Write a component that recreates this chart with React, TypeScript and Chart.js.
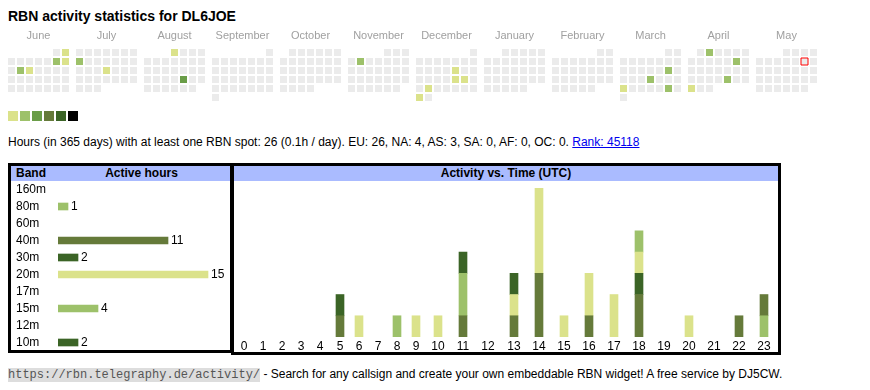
import React, { useEffect, useRef, useState } from 'react';
import { Chart, registerables } from 'chart.js';

Chart.register(...registerables);

const SANS = '"Liberation Sans", Arial, Helvetica, sans-serif';
const MONO = '"Liberation Mono", "DejaVu Sans Mono", monospace';

const MONTH_NAMES = ['June', 'July', 'August', 'September', 'October', 'November', 'December', 'January', 'February', 'March', 'April', 'May'];
const START_YEAR = 2024;
const START_MONTH = 5;
const ACTIVE_DATES = [
  '2024-06-02', '2024-06-08', '2024-06-09', '2024-06-11', '2024-06-12',
  '2024-07-08', '2024-07-18',
  '2024-08-01', '2024-08-23',
  '2024-11-05',
  '2024-12-13', '2024-12-20', '2024-12-21', '2024-12-24', '2024-12-30',
  '2025-03-15', '2025-03-20', '2025-03-24', '2025-03-29',
  '2025-04-02', '2025-04-12', '2025-04-25', '2025-04-28',
];
const ACTIVE_LEVELS = [1, 2, 1, 2, 1, 2, 1, 1, 3, 2, 1, 1, 1, 1, 1, 2, 2, 1, 2, 2, 2, 2, 1];
const TODAY = '2025-05-10';
const LEVEL_COLORS = ['#ebebeb', '#dbe28b', '#9dc16a', '#6a9d48', '#657a3a', '#3b6426', '#000000'];

const BANDS = ['160m', '80m', '60m', '40m', '30m', '20m', '17m', '15m', '12m', '10m'];
const BAND_HOURS = [0, 1, 0, 11, 2, 15, 0, 4, 0, 2];
const BAND_COLORS = ['#dbe28b', '#9dc16a', '#6a9d48', '#657a3a', '#3b6426', '#dbe28b', '#6a9d48', '#9dc16a', '#657a3a', '#3b6426'];

const HOUR_LABELS = ['0', '1', '2', '3', '4', '5', '6', '7', '8', '9', '10', '11', '12', '13', '14', '15', '16', '17', '18', '19', '20', '21', '22', '23'];
const H_160M = [0, 0, 0, 0, 0, 0, 0, 0, 0, 0, 0, 0, 0, 0, 0, 0, 0, 0, 0, 0, 0, 0, 0, 0];
const H_80M = [0, 0, 0, 0, 0, 0, 0, 0, 0, 0, 0, 0, 0, 0, 0, 0, 0, 0, 0, 0, 0, 0, 0, 1];
const H_60M = [0, 0, 0, 0, 0, 0, 0, 0, 0, 0, 0, 0, 0, 0, 0, 0, 0, 0, 0, 0, 0, 0, 0, 0];
const H_40M = [0, 0, 0, 0, 0, 1, 0, 0, 0, 0, 0, 1, 0, 1, 3, 0, 1, 0, 2, 0, 0, 0, 1, 1];
const H_30M = [0, 0, 0, 0, 0, 1, 0, 0, 0, 0, 0, 0, 0, 0, 0, 0, 0, 0, 1, 0, 0, 0, 0, 0];
const H_20M = [0, 0, 0, 0, 0, 0, 1, 0, 0, 1, 1, 0, 0, 1, 4, 1, 2, 2, 1, 0, 1, 0, 0, 0];
const H_17M = [0, 0, 0, 0, 0, 0, 0, 0, 0, 0, 0, 0, 0, 0, 0, 0, 0, 0, 0, 0, 0, 0, 0, 0];
const H_15M = [0, 0, 0, 0, 0, 0, 0, 0, 1, 0, 0, 2, 0, 0, 0, 0, 0, 0, 1, 0, 0, 0, 0, 0];
const H_12M = [0, 0, 0, 0, 0, 0, 0, 0, 0, 0, 0, 0, 0, 0, 0, 0, 0, 0, 0, 0, 0, 0, 0, 0];
const H_10M = [0, 0, 0, 0, 0, 0, 0, 0, 0, 0, 0, 1, 0, 1, 0, 0, 0, 0, 0, 0, 0, 0, 0, 0];
const HOURLY = [H_160M, H_80M, H_60M, H_40M, H_30M, H_20M, H_17M, H_15M, H_12M, H_10M];

const CELL = 9;
const MONTH_PITCH = 68 / CELL;
const CAL_W = 846;
const CAL_AXIS_H = 40;
const CAL_H = CAL_AXIS_H + 6 * CELL;
const CAL_XMIN = -3.5 / CELL;
const DIGIT_W = 5.8;
const CELL_PAD = 13.4;

const pad2 = (n: number) => (n < 10 ? '0' + n : '' + n);

function buildCalendar() {
  const pts: any[] = [];
  for (let m = 0; m < 12; m++) {
    const y = START_YEAR + Math.floor((START_MONTH + m) / 12);
    const mo = (START_MONTH + m) % 12;
    const first = new Date(Date.UTC(y, mo, 1));
    const offset = (first.getUTCDay() + 6) % 7;
    const days = new Date(Date.UTC(y, mo + 1, 0)).getUTCDate();
    for (let d = 1; d <= days; d++) {
      const idx = offset + d - 1;
      const key = `${y}-${pad2(mo + 1)}-${pad2(d)}`;
      const li = ACTIVE_DATES.indexOf(key);
      pts.push({ x: m * MONTH_PITCH + (idx % 7), y: Math.floor(idx / 7), key, level: li >= 0 ? ACTIVE_LEVELS[li] : 0 });
    }
  }
  return pts;
}

function hourCenters() {
  const out: number[] = [];
  let acc = 0;
  HOUR_LABELS.forEach((l) => {
    const w = l.length * DIGIT_W + CELL_PAD;
    out.push(Math.round(acc + w / 2));
    acc += w;
  });
  return { centers: out, total: Math.round(acc) };
}

const noPad = (s: any) => {
  s.paddingTop = 0;
  s.paddingBottom = 0;
  s.paddingLeft = 0;
  s.paddingRight = 0;
};

const barValueLabels = {
  id: 'barValueLabels',
  afterDatasetsDraw(chart: any) {
    const { ctx } = chart;
    const meta = chart.getDatasetMeta(0);
    ctx.save();
    ctx.font = `12px ${SANS}`;
    ctx.fillStyle = '#000';
    ctx.textBaseline = 'middle';
    ctx.textAlign = 'left';
    meta.data.forEach((bar: any, i: number) => {
      const v = BAND_HOURS[i];
      if (v > 0) ctx.fillText(String(v), bar.x + 3, bar.y + 0.5);
    });
    ctx.restore();
  },
};

export default function App() {
  const calRef = useRef<HTMLCanvasElement>(null);
  const bandRef = useRef<HTMLCanvasElement>(null);
  const actRef = useRef<HTMLCanvasElement>(null);
  const [err, setErr] = useState('');

  useEffect(() => {
    const charts: any[] = [];
    const errs: string[] = [];
    const pts = buildCalendar();
    const todayPts = pts.filter((p) => p.key === TODAY);
    const cellR = 3.5 / Math.SQRT1_2;

    try {
      charts.push(new Chart(calRef.current!, {
        type: 'scatter',
        data: {
          datasets: [
            { data: todayPts, pointStyle: 'rect', pointRadius: cellR, backgroundColor: LEVEL_COLORS[0], borderColor: '#ff0000', borderWidth: 1, clip: false } as any,
            { data: pts, pointStyle: 'rect', pointRadius: cellR, backgroundColor: pts.map((p) => LEVEL_COLORS[p.level]), borderWidth: 0, clip: false } as any,
          ],
        },
        options: {
          responsive: false,
          animation: false,
          events: [],
          layout: { padding: 0, autoPadding: false },
          plugins: { legend: { display: false }, tooltip: { enabled: false } },
          scales: {
            x: {
              type: 'linear',
              position: 'top',
              min: CAL_XMIN,
              max: CAL_XMIN + CAL_W / CELL,
              bounds: 'data',
              grid: { display: false, drawTicks: false },
              border: { display: false },
              afterBuildTicks: (s: any) => {
                s.ticks = MONTH_NAMES.map((_, m) => ({ value: m * MONTH_PITCH + 3 }));
              },
              afterFit: (s: any) => {
                s.height = CAL_AXIS_H;
                noPad(s);
              },
              ticks: {
                autoSkip: false,
                maxRotation: 0,
                padding: 5,
                color: '#a0a0a0',
                font: { family: SANS, size: 11 },
                callback: (_v: any, i: number) => MONTH_NAMES[i],
              },
            } as any,
            y: { type: 'linear', reverse: true, min: -0.5, max: 5.5, bounds: 'data', display: false } as any,
          },
        },
      }));
    } catch (e: any) {
      errs.push('cal: ' + String(e));
    }

    try {
      charts.push(new Chart(bandRef.current!, {
        type: 'bar',
        data: {
          labels: BANDS,
          datasets: [{ data: BAND_HOURS.map((v) => (v > 0 ? v : null)), backgroundColor: BAND_COLORS, barThickness: 7, borderWidth: 0 } as any],
        },
        options: {
          indexAxis: 'y',
          responsive: false,
          animation: false,
          events: [],
          layout: { padding: 0, autoPadding: false },
          plugins: { legend: { display: false }, tooltip: { enabled: false } },
          scales: {
            x: { display: false, min: 0, max: 17 } as any,
            y: {
              grid: { display: false, drawTicks: false },
              border: { display: false },
              afterFit: (s: any) => {
                s.width = 42;
                noPad(s);
              },
              ticks: { autoSkip: false, crossAlign: 'far', padding: 0, color: '#000', font: { family: SANS, size: 12 } },
            } as any,
          },
        },
        plugins: [barValueLabels as any],
      }));
    } catch (e: any) {
      errs.push('band: ' + String(e));
    }

    try {
      const hc = hourCenters();
      charts.push(new Chart(actRef.current!, {
        type: 'bar',
        data: {
          datasets: BANDS.map((b, i) => ({
            label: b,
            data: HOURLY[i].map((v, h) => ({ x: hc.centers[h], y: v })).filter((p) => p.y > 0),
            backgroundColor: BAND_COLORS[i],
            barThickness: 8,
            borderWidth: 0,
          })) as any,
        },
        options: {
          responsive: false,
          animation: false,
          events: [],
          layout: { padding: 0, autoPadding: false },
          plugins: { legend: { display: false }, tooltip: { enabled: false } },
          scales: {
            x: {
              type: 'linear',
              min: 0,
              max: hc.total,
              bounds: 'data',
              offset: false,
              stacked: true,
              grid: { display: false, drawTicks: false },
              border: { display: false },
              afterBuildTicks: (s: any) => {
                s.ticks = hc.centers.map((c) => ({ value: c }));
              },
              afterFit: (s: any) => {
                s.height = 20;
                noPad(s);
              },
              ticks: {
                autoSkip: false,
                maxRotation: 0,
                padding: 2,
                color: '#000',
                font: { family: SANS, size: 12 },
                callback: (_v: any, i: number) => HOUR_LABELS[i],
              },
            } as any,
            y: { stacked: true, min: 0, max: 7.3, display: false } as any,
          },
        },
      }));
    } catch (e: any) {
      errs.push('act: ' + String(e));
    }

    if (errs.length) setErr(errs.join('\n'));

    return () => {
      charts.forEach((c) => c.destroy());
    };
  }, []);

  const abs = (s: any) => ({ position: 'absolute', ...s } as React.CSSProperties);

  return (
    <div style={{ position: 'relative', width: 854, height: 374, fontFamily: SANS, color: '#000' }}>
      <div style={abs({ left: 0, top: 1, fontSize: 14, lineHeight: '14px', fontWeight: 'bold', whiteSpace: 'nowrap' })}>
        RBN activity statistics for DL6JOE
      </div>
      <canvas ref={calRef} width={CAL_W} height={CAL_H} style={abs({ left: 0, top: 0, width: CAL_W, height: CAL_H })} />
      {LEVEL_COLORS.slice(1).map((c, i) => (
        <div key={c + i} style={abs({ left: i * 12, top: 103, width: 10, height: 10, background: c })} />
      ))}
      <div style={abs({ left: 0, top: 128, fontSize: 12, lineHeight: '12px', whiteSpace: 'nowrap' })}>
        Hours (in 365 days) with at least one RBN spot: 26 (0.1h / day). EU: 26, NA: 4, AS: 3, SA: 0, AF: 0, OC: 0.{' '}
        <a href="#" style={{ color: '#0000ee', textDecoration: 'underline' }}>Rank: 45118</a>
      </div>

      <div style={abs({ left: 0, top: 155, width: 225, height: 190, border: '3px solid #000', boxSizing: 'border-box' })} />
      <div style={abs({ left: 3, top: 158, width: 219, height: 15, background: '#aabbff' })} />
      <div style={abs({ left: 8, top: 158, fontSize: 12, lineHeight: '15px', fontWeight: 'bold' })}>Band</div>
      <div style={abs({ left: 83, top: 158, width: 101, textAlign: 'center', fontSize: 12, lineHeight: '15px', fontWeight: 'bold' })}>
        Active hours
      </div>
      <canvas ref={bandRef} width={212} height={170} style={abs({ left: 8, top: 173, width: 212, height: 170 })} />

      <div style={abs({ left: 223, top: 155, width: 550, height: 192, border: '3px solid #000', boxSizing: 'border-box' })} />
      <div style={abs({ left: 226, top: 158, width: 544, height: 15, background: '#aabbff' })} />
      <div style={abs({ left: 226, top: 158, width: 544, textAlign: 'center', fontSize: 12, lineHeight: '15px', fontWeight: 'bold' })}>
        Activity vs. Time (UTC)
      </div>
      <canvas ref={actRef} width={542} height={175} style={abs({ left: 226, top: 174, width: 542, height: 175 })} />

      <div style={abs({ left: 0, top: 358, fontSize: 12, lineHeight: '16px', whiteSpace: 'nowrap' })}>
        <code style={{ background: '#dddddd', color: '#555', fontFamily: MONO, fontSize: 12 }}>https://rbn.telegraphy.de/activity/</code>
        {' '}- Search for any callsign and create your own embeddable RBN widget! A free service by DJ5CW.
      </div>
      {err ? <pre style={abs({ left: 0, top: 0, fontSize: 10, background: '#fff', color: 'red', whiteSpace: 'pre-wrap', width: 850 })}>{err}</pre> : null}
    </div>
  );
}
